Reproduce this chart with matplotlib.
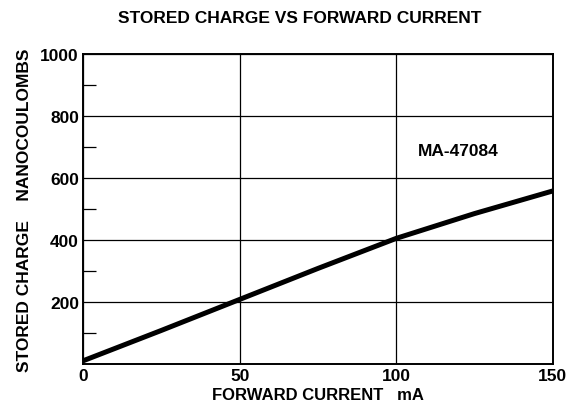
import matplotlib.pyplot as plt
import numpy as np

# stored charge (nC) against forward current (mA)
current_ma = [0, 25, 50, 75, 100, 125, 150]
charge_nc = [10, 108, 208, 308, 405, 485, 558]

x_ticks = [0, 50, 100, 150]
y_ticks = [200, 400, 600, 800, 1000]
y_minor = [100, 300, 500, 700, 900]

plt.rcParams['font.family'] = ['Liberation Sans', 'DejaVu Sans']
plt.rcParams['font.weight'] = 'bold'

fig = plt.figure(figsize=(5.85, 4.10), dpi=100)
ax = fig.add_axes([0.142, 0.110, 0.803, 0.756])

ax.plot(current_ma, charge_nc, color='black', lw=3.6, solid_capstyle='butt')

ax.set_xlim(0, 150)
ax.set_ylim(0, 1000)
ax.set_xticks(x_ticks)
ax.set_yticks(y_ticks)
ax.set_yticks(y_minor, minor=True)
ax.grid(True, which='major', color='black', lw=0.9)
ax.tick_params(which='major', length=0, labelsize=12.5, pad=3)
ax.tick_params(axis='y', which='minor', direction='in', length=9, width=0.9)
for s in ax.spines.values():
    s.set_linewidth(1.4)

ax.text(107, 690, 'MA-47084', fontsize=12.5, fontweight='bold', va='center', ha='left')

fig.text(0.513, 0.955, 'STORED CHARGE VS FORWARD CURRENT', fontsize=12.5,
         fontweight='bold', ha='center', va='center')
ax.set_xlabel('FORWARD CURRENT   mA', fontsize=12, fontweight='bold', labelpad=3)
ax.set_ylabel('STORED CHARGE    NANOCOULOMBS', fontsize=12.5, fontweight='bold', labelpad=6)

fig.savefig('out.png', dpi=100)
